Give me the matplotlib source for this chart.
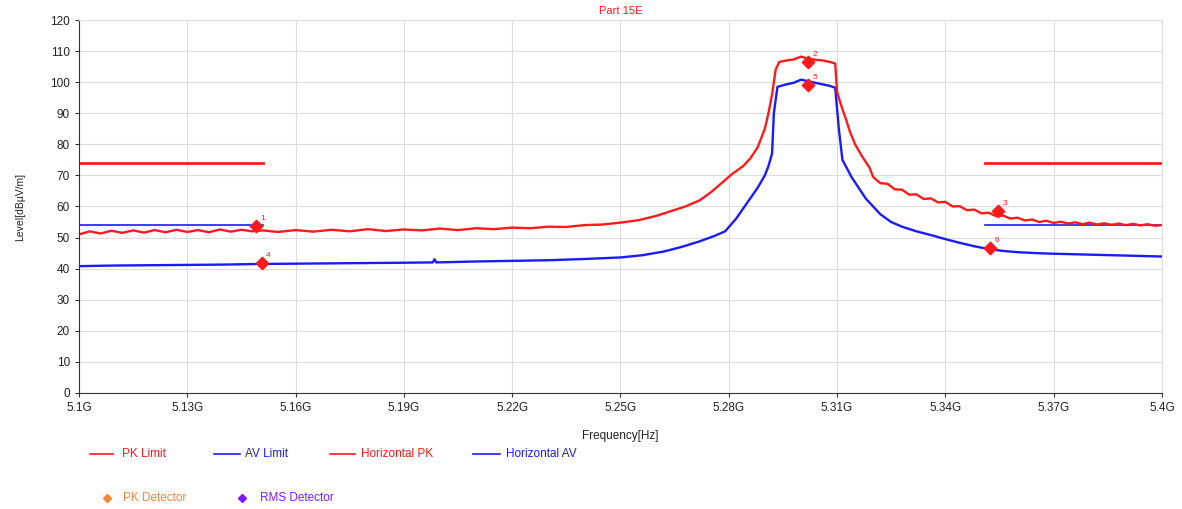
import matplotlib.pyplot as plt
from matplotlib.lines import Line2D

plt.rcParams['font.family'] = ['Liberation Sans', 'DejaVu Sans']

# limit lines (GHz, dBuV/m)
pk_limit_left_f = [5.10, 5.151]
pk_limit_right_f = [5.351, 5.40]
pk_limit_val = 74
av_limit_left_f = [5.10, 5.151]
av_limit_right_f = [5.351, 5.40]
av_limit_val = 54

# Horizontal PK trace
pk_freq = [5.100, 5.103, 5.106, 5.109, 5.112, 5.115, 5.118, 5.121, 5.124, 5.127,
           5.130, 5.133, 5.136, 5.139, 5.142, 5.145, 5.148, 5.151, 5.155, 5.160,
           5.165, 5.170, 5.175, 5.180, 5.185, 5.190, 5.195, 5.200, 5.205, 5.210,
           5.215, 5.220, 5.225, 5.230, 5.235, 5.240, 5.245, 5.250, 5.255, 5.260,
           5.264, 5.268, 5.272, 5.275, 5.278, 5.281, 5.284, 5.286, 5.288, 5.290,
           5.291, 5.292, 5.293, 5.294, 5.296, 5.298, 5.300, 5.302, 5.304, 5.306,
           5.308, 5.3095, 5.310, 5.311, 5.3125, 5.3136, 5.315, 5.317, 5.319,
           5.320, 5.322, 5.324, 5.326, 5.328, 5.330, 5.332, 5.334, 5.336, 5.338,
           5.340, 5.342, 5.344, 5.346, 5.348, 5.350, 5.352, 5.354, 5.356, 5.358,
           5.360, 5.362, 5.364, 5.366, 5.368, 5.370, 5.372, 5.374, 5.376, 5.378,
           5.380, 5.382, 5.384, 5.386, 5.388, 5.390, 5.392, 5.394, 5.396, 5.398,
           5.400]
pk_level = [51.0, 52.0, 51.3, 52.2, 51.5, 52.3, 51.6, 52.4, 51.7, 52.5,
            51.8, 52.4, 51.7, 52.6, 51.9, 52.5, 52.0, 52.3, 51.8, 52.4,
            51.9, 52.5, 52.0, 52.7, 52.1, 52.6, 52.3, 52.9, 52.4, 53.0,
            52.7, 53.2, 53.0, 53.5, 53.4, 54.0, 54.2, 54.8, 55.6, 57.0,
            58.5, 60.0, 62.0, 64.5, 67.5, 70.5, 73.0, 75.5, 79.0, 85.0,
            90.0, 96.0, 104.0, 106.5, 107.0, 107.3, 108.2, 107.6, 107.2, 107.0,
            106.5, 106.0, 97.0, 93.0, 88.0, 84.0, 80.0, 76.0, 72.5,
            69.5, 67.5, 67.3, 65.5, 65.4, 63.8, 63.9, 62.4, 62.6, 61.3,
            61.5, 60.0, 60.1, 58.8, 59.0, 57.8, 58.0, 56.9, 57.1, 56.1,
            56.4, 55.5, 55.8, 55.0, 55.4, 54.7, 55.1, 54.5, 54.9, 54.3,
            54.8, 54.2, 54.6, 54.1, 54.5, 54.0, 54.4, 53.9, 54.3, 53.8,
            54.0]

# Horizontal AV trace
av_freq = [5.100, 5.110, 5.120, 5.130, 5.140, 5.150, 5.160, 5.170, 5.180, 5.190,
           5.198, 5.1985, 5.199, 5.210, 5.220, 5.230, 5.240, 5.250, 5.256, 5.262,
           5.267, 5.272, 5.276, 5.279, 5.282, 5.285, 5.288, 5.290, 5.291, 5.292,
           5.2925, 5.2935, 5.296, 5.298, 5.300, 5.302, 5.304, 5.306, 5.308, 5.3095,
           5.3105, 5.3115, 5.314, 5.316, 5.318, 5.320, 5.322, 5.325, 5.328, 5.332,
           5.336, 5.340, 5.344, 5.348, 5.352, 5.356, 5.360, 5.365, 5.370, 5.380,
           5.390, 5.400]
av_level = [40.8, 41.0, 41.1, 41.2, 41.3, 41.5, 41.6, 41.7, 41.8, 41.9,
            42.0, 43.0, 42.0, 42.3, 42.5, 42.7, 43.1, 43.6, 44.3, 45.5,
            47.0, 48.8, 50.5, 52.0, 56.0, 61.0, 66.0, 70.0, 73.0, 77.0,
            90.0, 98.5, 99.3, 99.8, 100.8, 100.3, 99.8, 99.3, 98.8, 98.2,
            85.0, 75.0, 69.5, 66.0, 62.5, 60.0, 57.5, 55.0, 53.5, 52.0,
            50.8, 49.5, 48.3, 47.2, 46.3, 45.7, 45.3, 45.0, 44.8, 44.5,
            44.2, 43.9]

# marker points (PK: 1-3, AV: 4-6)
mk_freq = [5.149, 5.302, 5.3546, 5.1507, 5.302, 5.3524]
mk_level = [53.7, 106.5, 58.6, 41.8, 99.1, 46.7]
mk_labels = ['1', '2', '3', '4', '5', '6']

x_ticks = [5.10, 5.13, 5.16, 5.19, 5.22, 5.25, 5.28, 5.31, 5.34, 5.37, 5.40]
x_tick_labels = ['5.1G', '5.13G', '5.16G', '5.19G', '5.22G', '5.25G',
                 '5.28G', '5.31G', '5.34G', '5.37G', '5.4G']
y_ticks = list(range(0, 121, 10))

RED = '#ff1a1a'
BLUE = '#1a1aff'

fig = plt.figure(figsize=(11.82, 5.09), dpi=100)
ax = fig.add_axes([0.0668, 0.228, 0.9162, 0.7327])

ax.plot(pk_limit_left_f, [pk_limit_val] * 2, color=RED, lw=2)
ax.plot(pk_limit_right_f, [pk_limit_val] * 2, color=RED, lw=2)
ax.plot(av_limit_left_f, [av_limit_val] * 2, color=BLUE, lw=1.2)
ax.plot(av_limit_right_f, [av_limit_val] * 2, color=BLUE, lw=1.2)
ax.plot(av_freq, av_level, color=BLUE, lw=1.7)
ax.plot(pk_freq, pk_level, color=RED, lw=1.7)

ax.scatter(mk_freq, mk_level, marker='D', s=40, color=RED, zorder=5)
for f, v, t in zip(mk_freq, mk_level, mk_labels):
    ax.annotate(t, (f, v), xytext=(3, 4), textcoords='offset points',
                fontsize=6, color=RED)

ax.set_xlim(5.10, 5.40)
ax.set_ylim(0, 120)
ax.set_xticks(x_ticks)
ax.set_xticklabels(x_tick_labels)
ax.set_yticks(y_ticks)
ax.tick_params(labelsize=8.5, length=3, color='#333333', labelcolor='#222222')
ax.grid(True, color='#dddddd', lw=0.8)
ax.set_axisbelow(True)
for s in ['top', 'right']:
    ax.spines[s].set_color('#dddddd')
for s in ['left', 'bottom']:
    ax.spines[s].set_color('#333333')

ax.set_title('Part 15E', color=RED, fontsize=8, pad=4)
ax.set_xlabel('Frequency[Hz]', fontsize=8.5, color='#222222')
ax.set_ylabel('Level[dBµV/m]', fontsize=7.5, color='#222222', labelpad=18)
ax.xaxis.set_label_coords(0.5, -0.1)

# legend, drawn by hand in figure coordinates
W, H = 1182, 509
row1 = 1 - 454 / H
row2 = 1 - 498 / H
legend_lines = [(90, 113, 122, 'PK Limit', RED),
                (214, 240, 245, 'AV Limit', BLUE),
                (330, 355, 361, 'Horizontal PK', RED),
                (473, 500, 506, 'Horizontal AV', BLUE)]
for x0, x1, xt, label, c in legend_lines:
    fig.add_artist(Line2D([x0 / W, x1 / W], [row1, row1], color=c, lw=1.2))
    fig.text(xt / W, row1, label, color=c, fontsize=8.5, va='center')

legend_marks = [(107, 123, 'PK Detector', '#f5863a'),
                (242, 260, 'RMS Detector', '#7f1aff')]
for xm, xt, label, c in legend_marks:
    fig.add_artist(Line2D([xm / W], [row2], marker='D', markersize=4,
                          color=c, lw=0))
    fig.text(xt / W, row2, label, color=c, fontsize=8.5, va='center')

fig.savefig('out.png', dpi=100)
